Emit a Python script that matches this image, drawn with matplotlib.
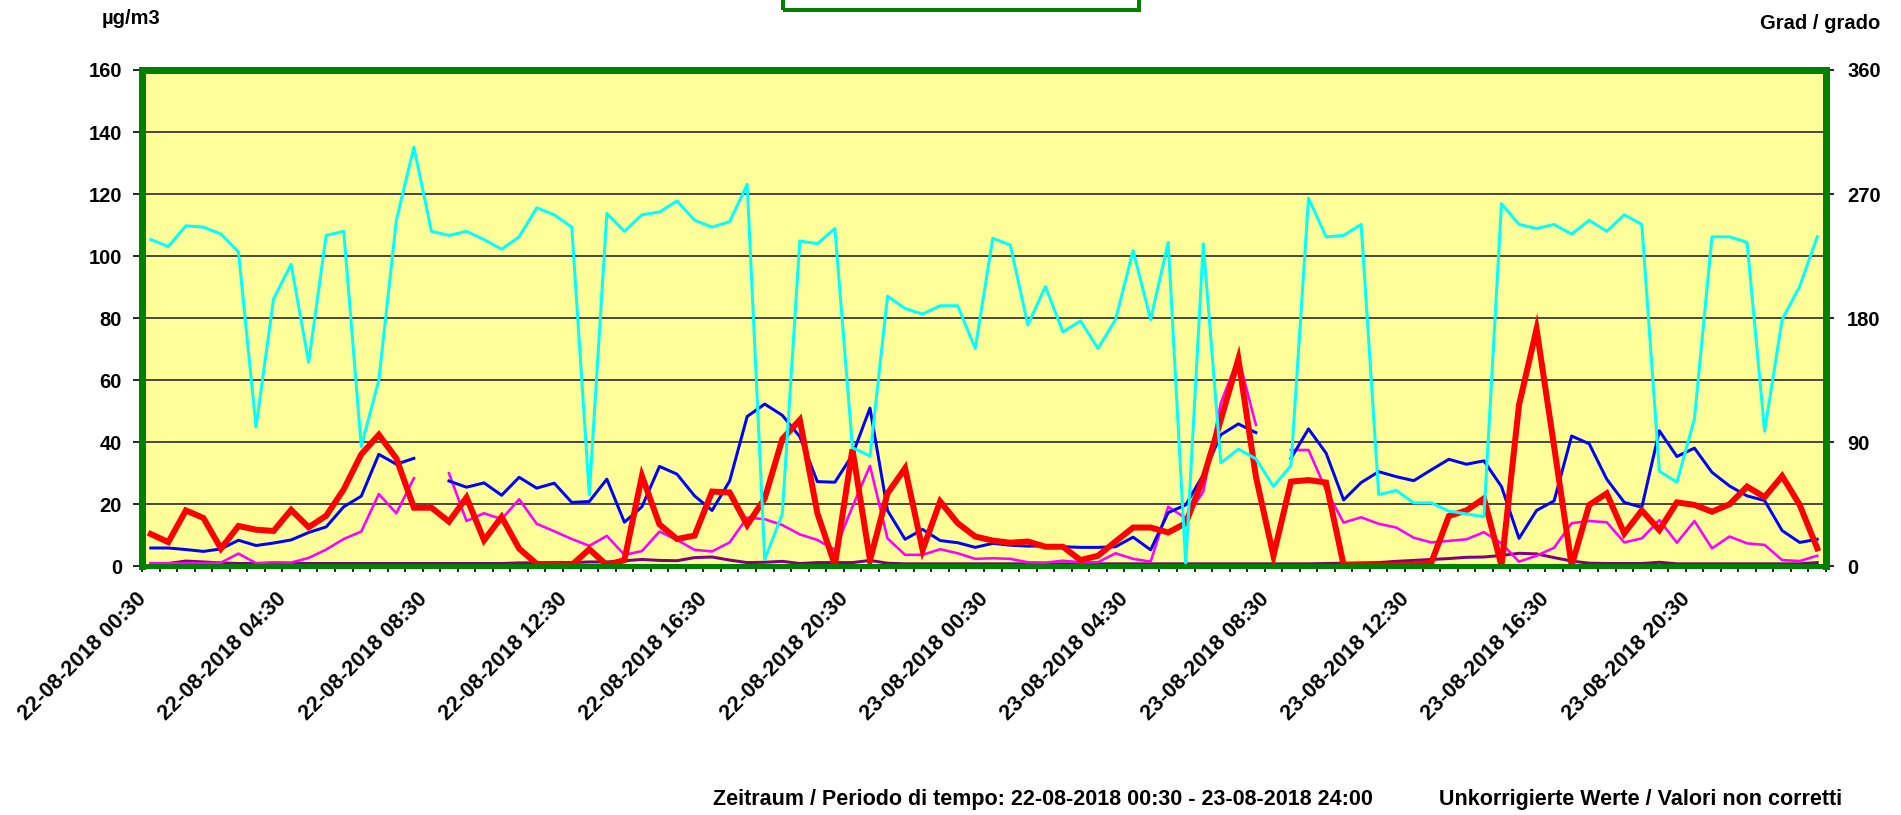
import numpy as np
import matplotlib
matplotlib.use("Agg")
import matplotlib.pyplot as plt
from matplotlib.patches import Rectangle
from matplotlib.transforms import ScaledTranslation

plt.rcParams['font.family'] = ['Liberation Sans', 'DejaVu Sans']
plt.rcParams['font.weight'] = 'bold'

W, H = 1901, 815

# half-hourly values, 22-08-2018 00:30 .. 23-08-2018 24:00 (96 slots)
tick_labels = ['22-08-2018 00:30', '22-08-2018 04:30', '22-08-2018 08:30',
               '22-08-2018 12:30', '22-08-2018 16:30', '22-08-2018 20:30',
               '23-08-2018 00:30', '23-08-2018 04:30', '23-08-2018 08:30',
               '23-08-2018 12:30', '23-08-2018 16:30', '23-08-2018 20:30']

# red (thick), ug/m3
red = [10.4, 7.8, 18.0, 15.6, 5.7, 13.0, 11.8, 11.4, 18.2, 12.6, 16.3, 24.8,
       36.1, 42.4, 34.8, 18.9, 18.9, 14.4, 22.2, 8.4, 15.9, 5.7, 0.8, 0.4,
       0.4, 5.5, 0.4, 2.0, 29.1, 13.5, 8.8, 9.9, 24.1, 23.8, 13.3, 21.9,
       41.0, 47.2, 17.1, 0.4, 37.7, 2.0, 23.5, 31.6, 5.3, 20.9, 13.9, 9.6,
       8.3, 7.6, 8.0, 6.3, 6.3, 2.0, 3.4, 8.0, 12.5, 12.5, 10.9, 13.9,
       28.4, 47.2, 66.8, 28.9, 3.4, 27.3, 27.8, 27.0, 0.4, 0.4, 0.4, 0.4,
       0.4, 1.2, 16.2, 18.0, 21.9, 0.2, 52.0, 76.5, 38.6, 0.2, 19.8, 23.5,
       10.6, 18.0, 11.7, 20.6, 19.8, 17.6, 20.0, 25.7, 22.3, 29.1, 19.8, 5.8]

# blue, ug/m3 (None = missing)
blue = [5.9, 5.9, 5.4, 4.8, 5.6, 8.4, 6.7, 7.5, 8.5, 10.9, 12.7, 19.2,
        22.6, 36.1, 32.9, 34.8, None, 27.5, 25.5, 26.9, 22.9, 28.7, 25.2, 26.8,
        20.6, 20.9, 28.1, 14.2, 19.2, 32.2, 29.7, 22.7, 18.0, 27.5, 48.3, 52.3,
        48.7, 41.8, 27.3, 27.1, 35.9, 51.0, 18.0, 8.7, 11.9, 8.3, 7.6, 6.1,
        7.4, 6.8, 6.5, 6.6, 6.3, 6.1, 6.1, 6.3, 9.4, 5.3, 17.3, 19.8,
        29.5, 42.4, 45.9, 43.1, None, 34.8, 44.3, 36.5, 21.4, 27.0, 30.5, 28.9,
        27.6, 31.1, 34.5, 32.9, 34.0, 25.7, 9.0, 18.0, 21.1, 42.0, 39.5, 28.1,
        20.6, 19.0, 43.7, 35.4, 38.1, 30.3, 25.9, 22.7, 21.2, 11.5, 7.7, 8.7]

# magenta, ug/m3
magenta = [1.0, 1.0, 1.0, 1.0, 1.2, 4.1, 1.0, 1.3, 1.2, 2.7, 5.4, 8.8,
           11.2, 23.3, 17.1, 28.4, None, 30.0, 14.6, 17.1, 15.2, 21.6, 13.7, 11.3,
           8.8, 6.6, 9.8, 3.7, 4.9, 11.2, 8.5, 5.3, 4.8, 7.7, 15.7, 15.2,
           13.3, 10.3, 8.5, 5.3, 19.2, 32.4, 9.0, 3.7, 3.7, 5.5, 4.2, 2.4,
           2.6, 2.4, 1.3, 1.2, 1.8, 1.3, 1.3, 4.2, 2.4, 1.5, 19.2, 15.5,
           24.1, 52.6, 67.3, 45.6, None, 37.5, 37.5, 24.6, 14.1, 15.8, 13.7, 12.5,
           9.2, 7.7, 8.2, 8.7, 11.0, 7.4, 1.5, 3.4, 6.0, 13.9, 14.6, 14.2,
           7.7, 9.0, 14.9, 7.6, 14.6, 5.8, 9.6, 7.4, 6.9, 2.0, 1.7, 3.4]

# dark purple, ug/m3
purple = [0.9, 0.9, 1.7, 1.4, 1.1, 0.9, 0.9, 0.9, 0.9, 0.9, 0.9, 0.9,
          0.9, 0.9, 0.9, 0.9, 0.9, 0.9, 0.9, 0.9, 0.9, 1.1, 1.1, 1.2,
          1.2, 1.4, 1.4, 1.8, 2.2, 1.9, 1.8, 2.8, 3.0, 2.0, 1.2, 1.3,
          1.6, 0.9, 1.2, 1.2, 1.2, 1.9, 1.0, 0.8, 0.8, 0.8, 0.8, 0.8,
          0.8, 0.8, 0.8, 0.8, 0.8, 0.8, 0.8, 0.8, 0.8, 0.8, 0.8, 0.8,
          0.8, 0.8, 0.8, 0.8, 0.8, 0.8, 0.8, 0.9, 1.0, 1.1, 1.2, 1.6,
          1.9, 2.2, 2.5, 2.9, 3.0, 3.5, 4.2, 4.0, 2.8, 1.7, 1.0, 0.9,
          0.9, 0.9, 1.3, 0.8, 0.8, 0.8, 0.8, 0.8, 0.8, 0.8, 0.8, 1.2]

# cyan, wind direction in degrees (right axis)
cyan = [237, 232, 247, 246, 241, 228, 101, 194, 219, 148, 240, 243,
        87, 135, 251, 304, 243, 240, 243, 237, 230, 239, 260, 255,
        246, 52, 256, 243, 255, 257, 265, 251, 246, 250, 277, 5,
        38, 236, 234, 245, 86, 80, 196, 187, 183, 189, 189, 158,
        238, 233, 175, 203, 170, 178, 158, 179, 229, 179, 235, 1,
        234, 75, 85, 78, 58, 73, 267, 239, 240, 248, 52, 55,
        46, 46, 40, 38, 36, 263, 248, 245, 248, 241, 251, 243,
        255, 248, 69, 61, 107, 239, 239, 235, 98, 179, 203, 239]


def arr(v):
    return np.array([np.nan if a is None else a for a in v], dtype=float)


def px(n):
    return n * 72.0 / 100.0


fig = plt.figure(figsize=(W / 100, H / 100), dpi=100)
ax = fig.add_axes([142 / W, 1 - 566.3 / H, 1684 / W, 496.3 / H])
ax.set_facecolor('#FFFF99')
x = np.arange(len(red))

ax.set_xlim(-0.5, len(red) - 0.5)
ax.set_ylim(0, 160)
ax.set_yticks(np.arange(0, 161, 20))
ax.yaxis.grid(True, color='#3a3a3a', lw=1.3)
ax.set_axisbelow(True)

ax.plot(x, arr(purple), color='#800080', lw=px(3), solid_joinstyle='round')
ax.plot(x, arr(magenta), color='#FF00FF', lw=px(2.6))
ax.plot(x, arr(blue), color='#0000FF', lw=px(3))
ax.plot(x, arr(red), color='#FF0000', lw=px(6), solid_joinstyle='miter')

ax2 = ax.twinx()
ax2.set_ylim(0, 360)
ax2.set_yticks([0, 90, 180, 270, 360])
ax2.plot(x, arr(cyan), color='#00FFFF', lw=px(3))

for a in (ax, ax2):
    for s in a.spines.values():
        s.set_color('#008000')
    a.spines['top'].set_linewidth(px(7))
    a.spines['left'].set_linewidth(px(7))
    a.spines['right'].set_linewidth(px(7))
    a.spines['bottom'].set_linewidth(px(5))

ax.tick_params(axis='y', direction='out', length=px(9), width=1.2, color='black',
               pad=px(11), labelsize=14.5)
ax2.tick_params(axis='y', direction='out', length=px(8), width=1.2, color='black',
                pad=px(13), labelsize=14.5)
for lab in ax.get_yticklabels() + ax2.get_yticklabels():
    lab.set_fontweight('bold')

# x axis: minor ticks between categories, labels every 8 slots
ax.set_xticks(np.arange(-0.5, len(red), 1.0), minor=True)
ax.set_xticks(np.arange(0, len(red), 8))
ax.set_xticklabels(tick_labels, rotation=45, ha='right', va='top',
                   rotation_mode='anchor', fontsize=15.5, fontweight='bold')
ax.tick_params(axis='x', which='major', length=0, pad=px(22))
ax.tick_params(axis='x', which='minor', direction='out', length=px(6),
               width=1.2, color='black')
shift = ScaledTranslation(-15 / 100, 0, fig.dpi_scale_trans)
for lab in ax.get_xticklabels():
    lab.set_transform(lab.get_transform() + shift)

# empty title frame at top, cut by the edge
fig.add_artist(Rectangle((783 / W, 1 - 10 / H), (1139 - 783) / W, 20 / H,
                         transform=fig.transFigure, fill=False,
                         edgecolor='#008000', lw=px(4), clip_on=False))

fig.text(131 / W, 1 - 24 / H, 'µg/m3', ha='center', va='baseline',
         fontsize=14.5, fontweight='bold')
fig.text(1880 / W, 1 - 29 / H, 'Grad / grado', ha='right', va='baseline',
         fontsize=14.5, fontweight='bold')
fig.text(1373 / W, 1 - 800 / H,
         'Zeitraum / Periodo di tempo: 22-08-2018 00:30 - 23-08-2018 24:00',
         ha='right', va='center', fontsize=15.5, fontweight='bold')
fig.text(1439 / W, 1 - 800 / H, 'Unkorrigierte Werte / Valori non corretti',
         ha='left', va='center', fontsize=15.5, fontweight='bold')

fig.savefig('out.png', dpi=100, facecolor='white')
